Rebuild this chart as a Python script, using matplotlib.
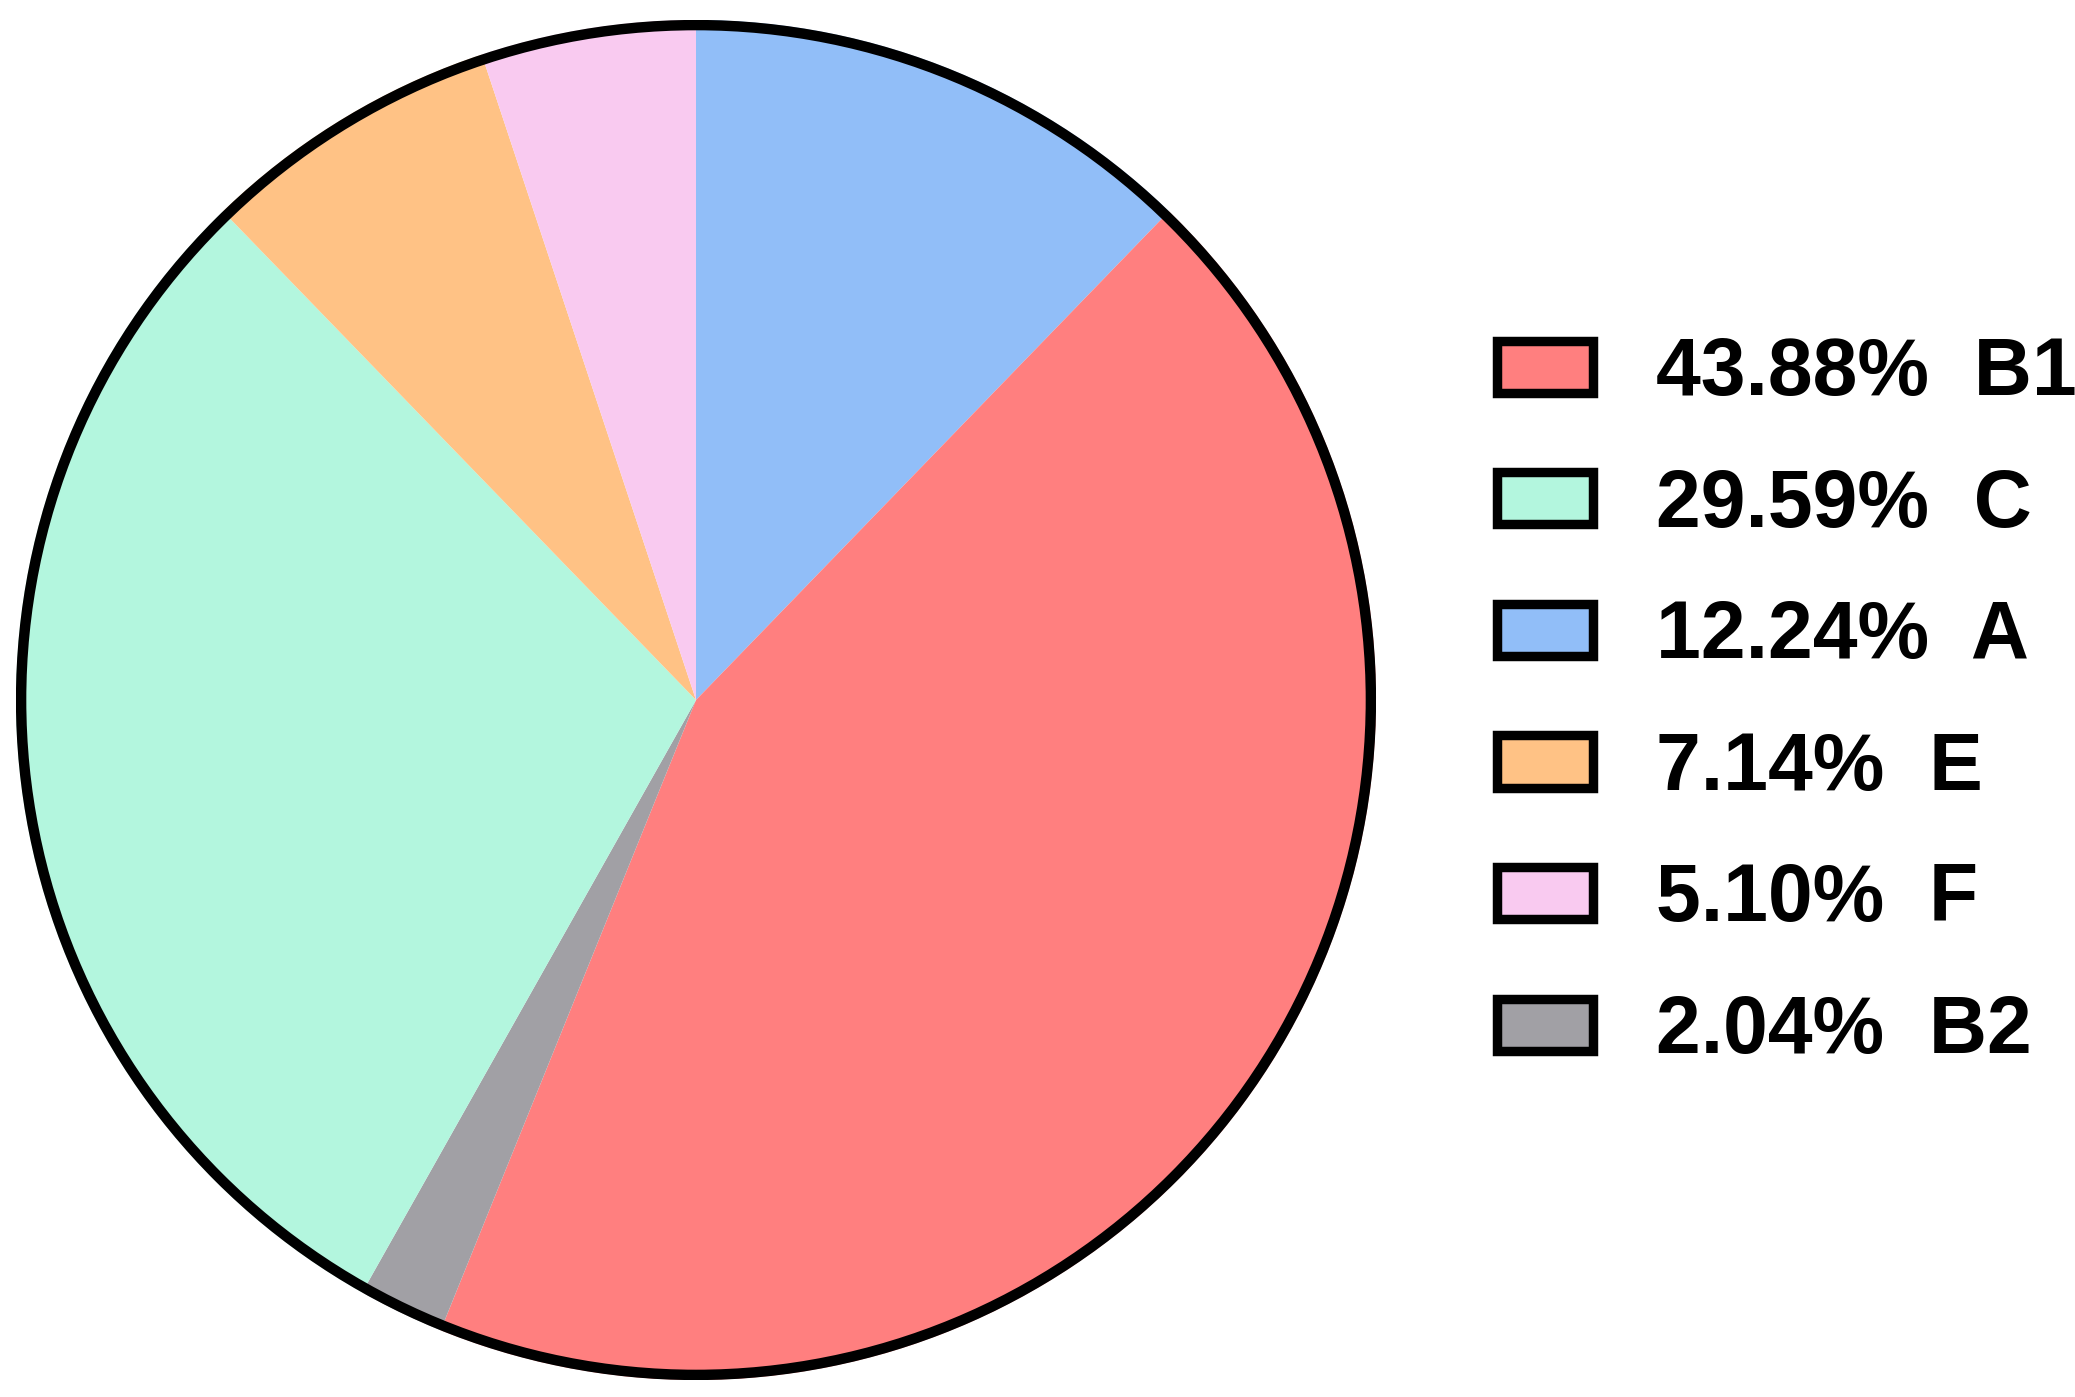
import matplotlib.pyplot as plt
from matplotlib.patches import Circle

plt.rcParams['font.family'] = ['Liberation Sans', 'DejaVu Sans']

# slices, clockwise from 12 o'clock
groups = ['A', 'B1', 'B2', 'C', 'E', 'F']
shares = [12.24, 43.88, 2.04, 29.59, 7.14, 5.10]
colors = ['#91BEF8', '#FF7F7F', '#A1A0A5', '#B3F6DE', '#FFC285', '#F9CAF0']

# legend order
legend_order = ['B1', 'C', 'A', 'E', 'F', 'B2']

W, H = 2075, 1397
fig = plt.figure(figsize=(W / 100, H / 100), dpi=100)
cx, cy, r = 696, 700, 680
ax = fig.add_axes([(cx - r) / W, (H - cy - r) / H, 2 * r / W, 2 * r / H])

wedges, _ = ax.pie(shares, colors=colors, startangle=90, counterclock=False,
                   radius=1, wedgeprops=dict(linewidth=0))
# black outline round the whole pie
ax.add_patch(Circle((0, 0), 0.9925, fill=False, edgecolor='black', lw=7.5, zorder=5))
ax.set_xlim(-1, 1)
ax.set_ylim(-1, 1)
ax.set_aspect('equal')
ax.axis('off')

handles = []
labels = []
for g in legend_order:
    i = groups.index(g)
    handles.append(plt.Rectangle((0, 0), 1, 1, facecolor=colors[i], edgecolor='black', lw=6.8))
    labels.append(f'{shares[i]:.2f}%  {g}')

fig.legend(handles, labels, loc='center left', bbox_to_anchor=(1497 / W, 1 - 703 / H),
           frameon=False, prop=dict(size=58, weight='bold'),
           handlelength=1.19, handleheight=0.62, handletextpad=0.78,
           labelspacing=0.69, borderpad=0, borderaxespad=0)

fig.savefig('out.png', dpi=100)
